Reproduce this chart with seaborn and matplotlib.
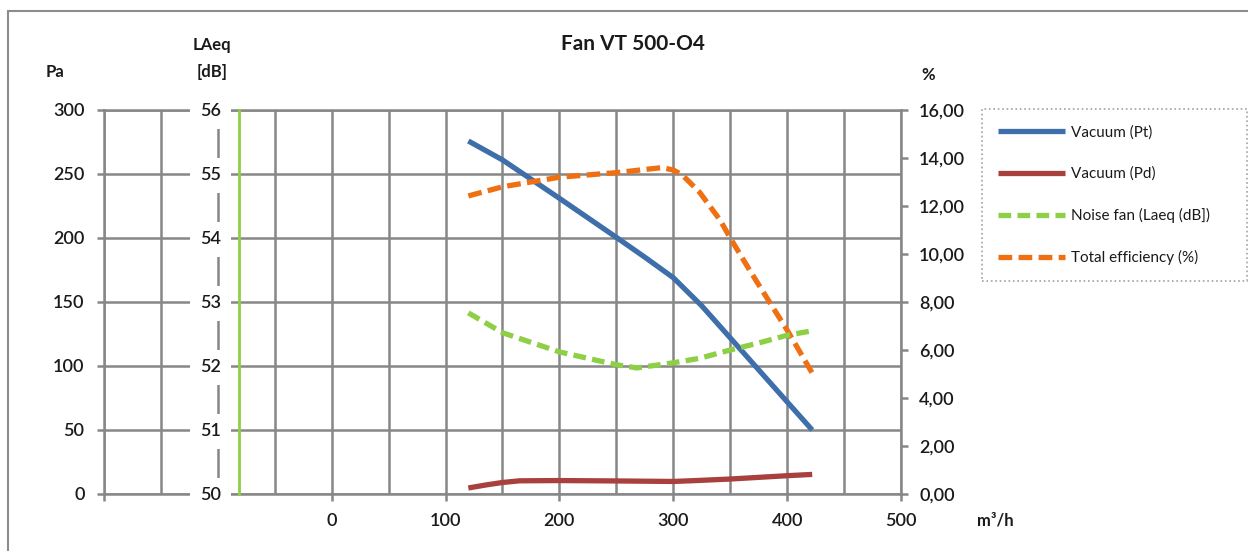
import matplotlib
matplotlib.use("Agg")
import matplotlib.pyplot as plt
import seaborn as sns
from matplotlib.lines import Line2D

# ---------------- data ----------------
flow_pt = [120, 150, 200, 250, 275, 300, 325, 350, 375, 400, 422]
vacuum_pt = [275.8, 261.0, 231.0, 200.5, 185.0, 169.0, 147.0, 122.0, 97.0, 72.0, 50.0]

flow_pd = [120, 135, 150, 165, 200, 250, 300, 320, 350, 375, 400, 422]
vacuum_pd = [4.7, 7.0, 9.0, 10.3, 10.5, 10.2, 9.8, 10.5, 11.7, 13.0, 14.3, 15.3]

flow_noise = [120, 150, 200, 250, 268, 300, 323, 350, 375, 400, 422]
noise_laeq = [52.83, 52.52, 52.22, 52.02, 51.97, 52.05, 52.12, 52.25, 52.36, 52.48, 52.55]

flow_eff = [120, 150, 200, 250, 290, 300, 308, 323, 341, 350, 367, 385, 400, 422]
efficiency = [12.42, 12.8, 13.2, 13.39, 13.6, 13.5, 13.29, 12.58, 11.42, 10.67, 9.33, 7.96, 6.83, 5.04]

series_labels = ["Vacuum (Pt)", "Vacuum (Pd)", "Noise fan (Laeq (dB])", "Total efficiency (%)"]

x_ticks = [-200, -100, 0, 100, 200, 300, 400, 500]
x_tick_labels = ["", "", "0", "100", "200", "300", "400", "500"]
x_grid_minor = [-150, -50, 50, 150, 250, 350, 450]
pa_ticks = [0, 50, 100, 150, 200, 250, 300]
laeq_ticks = [50, 51, 52, 53, 54, 55, 56]
pct_ticks = [0, 2, 4, 6, 8, 10, 12, 14, 16]
pct_tick_labels = ["0,00", "2,00", "4,00", "6,00", "8,00", "10,00", "12,00", "14,00", "16,00"]
laeq_axis_x = -81  # position of the green LAeq axis line (m³/h)

# ---------------- style ----------------
sns.set_theme(style="white")
plt.rcParams["font.family"] = ["Lato", "DejaVu Sans"]

GRID = "#878787"
GLW = 1.8
C_BLUE = "#3f6fab"
C_RED = "#a8403e"
C_GREEN = "#8dcf45"
C_ORANGE = "#ef7012"
TXT = "#1a1a1a"
TICK_FS = 13

fig = plt.figure(figsize=(12.48, 5.51), dpi=100)
W, H = 1248, 551
ax = fig.add_axes([104 / W, 57 / H, (901 - 104) / W, (494 - 110) / H])
ax2 = ax.twinx()
ax3 = ax.twinx()

# main lines
sns.lineplot(x=flow_pt, y=vacuum_pt, ax=ax, color=C_BLUE, lw=3.8, label=series_labels[0],
             legend=False, solid_capstyle="butt", solid_joinstyle="round", zorder=5)
sns.lineplot(x=flow_pd, y=vacuum_pd, ax=ax, color=C_RED, lw=3.8, label=series_labels[1],
             legend=False, solid_capstyle="butt", solid_joinstyle="round", zorder=5)
sns.lineplot(x=flow_noise, y=noise_laeq, ax=ax3, color=C_GREEN, lw=3.8, label=series_labels[2],
             legend=False, linestyle=(0, (2.4, 1.2)), dash_capstyle="butt", zorder=5)
sns.lineplot(x=flow_eff, y=efficiency, ax=ax2, color=C_ORANGE, lw=3.8, label=series_labels[3],
             legend=False, linestyle=(0, (2.6, 1.2)), dash_capstyle="butt", zorder=5)

# main axis
ax.set_xlim(-200, 500)
ax.set_ylim(0, 300)
ax.set_xticks(x_ticks)
ax.set_xticklabels(x_tick_labels)
ax.set_xticks(x_grid_minor, minor=True)
ax.set_yticks(pa_ticks)
ax.set_xlabel("")
ax.set_ylabel("")
ax.grid(True, which="both", axis="x", color=GRID, lw=GLW)
ax.grid(True, which="major", axis="y", color=GRID, lw=GLW)
ax.set_axisbelow(True)
for s in ["left", "bottom", "top"]:
    ax.spines[s].set_visible(True)
    ax.spines[s].set_color(GRID)
    ax.spines[s].set_linewidth(GLW)
ax.spines["right"].set_visible(False)
ax.tick_params(axis="both", which="major", direction="out", length=5, width=GLW, color=GRID,
               labelsize=TICK_FS, labelcolor=TXT)
ax.tick_params(axis="y", pad=9, left=True)
ax.tick_params(axis="x", pad=9, bottom=True)
ax.tick_params(axis="x", which="minor", length=0)
for t in ax.get_xticklabels() + ax.get_yticklabels():
    t.set_fontweight("semibold")

# percent axis (right)
ax2.set_ylim(0, 16)
ax2.set_yticks(pct_ticks)
ax2.set_yticklabels(pct_tick_labels)
ax2.set_ylabel("")
ax2.grid(False)
for s in ["left", "bottom", "top"]:
    ax2.spines[s].set_visible(False)
ax2.spines["right"].set_visible(True)
ax2.spines["right"].set_color(GRID)
ax2.spines["right"].set_linewidth(GLW)
ax2.tick_params(axis="y", direction="out", length=5, width=GLW, color=GRID, labelsize=TICK_FS,
                labelcolor=TXT, pad=8, right=True)
for t in ax2.get_yticklabels():
    t.set_fontweight("semibold")

# LAeq axis (inner left, green line)
ax3.set_ylim(50, 56)
ax3.set_yticks(laeq_ticks)
ax3.set_ylabel("")
ax3.grid(False)
ax3.yaxis.set_ticks_position("left")
ax3.yaxis.set_label_position("left")
for s in ["right", "bottom", "top"]:
    ax3.spines[s].set_visible(False)
ax3.spines["left"].set_visible(True)
ax3.spines["left"].set_position(("data", laeq_axis_x))
ax3.spines["left"].set_color(C_GREEN)
ax3.spines["left"].set_linewidth(2.0)
ax3.tick_params(axis="y", length=0, labelsize=TICK_FS, labelcolor=TXT, pad=13.5)
for t in ax3.get_yticklabels():
    t.set_fontweight("semibold")
    t.set_bbox(dict(facecolor="white", edgecolor="none", boxstyle="square,pad=0.55"))

# titles / unit labels
fig.text(633 / W, 1 - 44 / H, "Fan VT 500-O4", ha="center", va="center", fontsize=15,
         fontweight="bold", color=TXT)
fig.text(55 / W, 1 - 72 / H, "Pa", ha="center", va="center", fontsize=12, fontweight="bold", color=TXT)
fig.text(212 / W, 1 - 45 / H, "LAeq", ha="center", va="center", fontsize=12, fontweight="bold", color=TXT)
fig.text(212 / W, 1 - 72 / H, "[dB]", ha="center", va="center", fontsize=12, fontweight="bold", color=TXT)
fig.text(928 / W, 1 - 75 / H, "%", ha="center", va="center", fontsize=12, fontweight="bold", color=TXT)
fig.text(995 / W, 1 - 521 / H, "m³/h", ha="center", va="center", fontsize=12, fontweight="bold", color=TXT)

# legend
handles = []
for a in (ax, ax3, ax2):
    h, l = a.get_legend_handles_labels()
    handles += list(zip(h, l))
order = {lab: i for i, lab in enumerate(series_labels)}
handles.sort(key=lambda p: order[p[1]])
leg = fig.legend([h for h, _ in handles], [l for _, l in handles],
                 loc="upper left",
                 bbox_to_anchor=(982 / W, 1 - 277 / H, (1247 - 982) / W, (277 - 109) / H),
                 mode="expand", borderaxespad=0, fontsize=11, handlelength=4.4, handletextpad=0.35,
                 labelspacing=1.78, borderpad=1.05, frameon=True, fancybox=False)
fr = leg.get_frame()
fr.set_edgecolor("#8a8a8a")
fr.set_linestyle(":")
fr.set_linewidth(1.2)
for t in leg.get_texts():
    t.set_color(TXT)

# outer chart border (left and top)
fig.add_artist(Line2D([8 / W, 8 / W], [0, 1 - 11 / H], transform=fig.transFigure,
                      color="#8c8c8c", lw=1.5))
fig.add_artist(Line2D([8 / W, 1], [1 - 11 / H, 1 - 11 / H], transform=fig.transFigure,
                      color="#8c8c8c", lw=1.5))

fig.savefig("out.png", dpi=100, facecolor="white")
